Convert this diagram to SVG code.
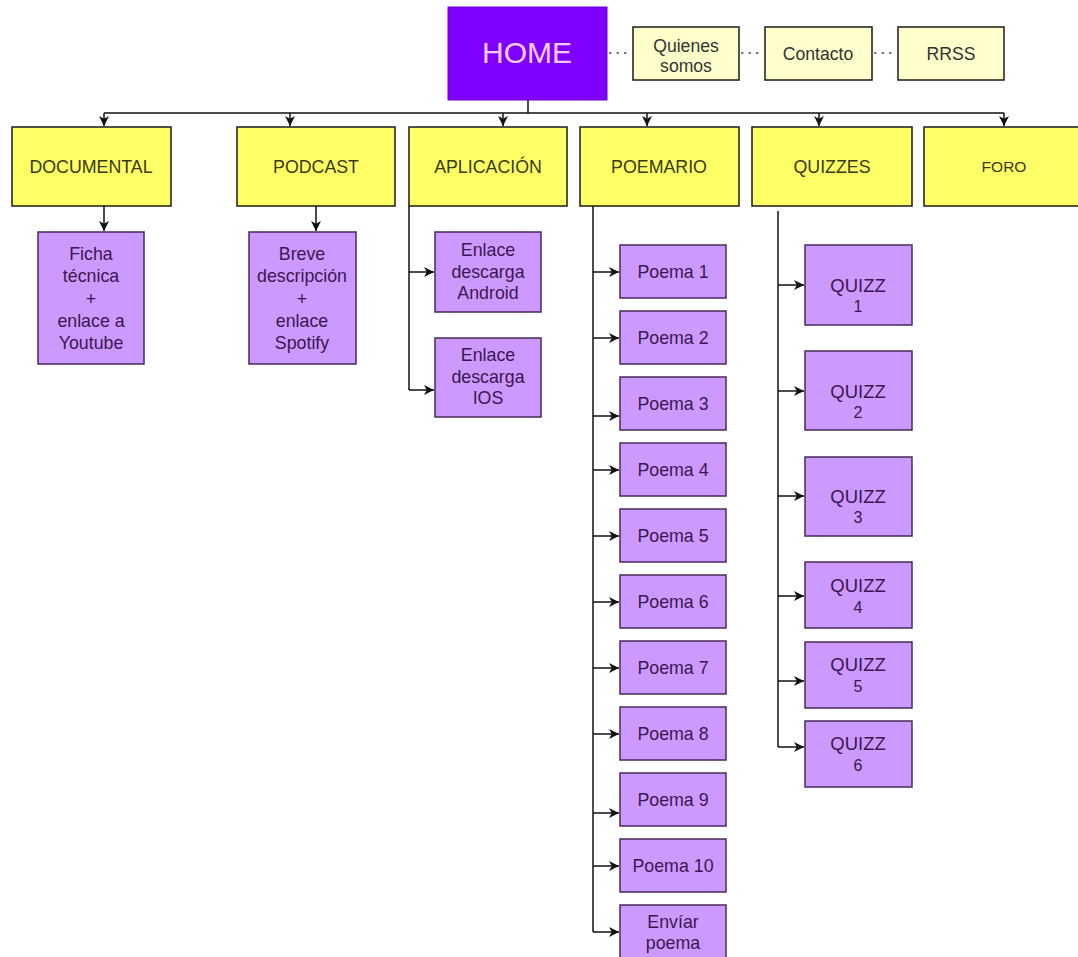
<svg xmlns="http://www.w3.org/2000/svg" width="1078" height="957" viewBox="0 0 1078 957">
<defs>
<style>
.home{fill:#7F00FF;stroke:#6a00d6;stroke-width:1}
.lt{fill:#FFFFCC;stroke:#1a1a1a;stroke-width:1.5}
.yl{fill:#FFFF66;stroke:#1a1a1a;stroke-width:1.5}
.pp{fill:#CC99FF;stroke:#4a2a5a;stroke-width:1.5}
text{font-family:"Liberation Sans",Arial,sans-serif;text-anchor:middle}
.th{font-size:30px;fill:#FFCCFF}
.ty{font-size:17.8px;fill:#3a3a10}
.tl{font-size:17.6px;fill:#333}
.tp{font-size:17.8px;fill:#3d1650}
.tq{font-size:18.5px;fill:#3d1650}
.tn{font-size:16px;fill:#3d1650}
.c{fill:none;stroke:#111;stroke-width:1.5}
.d{fill:none;stroke:#666;stroke-width:2.2;stroke-linecap:round;stroke-dasharray:0.5 7}
</style>
<marker id="a" markerWidth="11" markerHeight="11" refX="10" refY="5.5" orient="auto" markerUnits="userSpaceOnUse">
<path d="M0,0.5 L10,5.5 L0,10.5 L2.8,5.5 Z" fill="#111"/>
</marker>
</defs>
<rect width="1078" height="957" fill="#fff"/>
<g id="connectors">
<path class="d" d="M610 53 H632"/>
<path class="d" d="M742 53 H764"/>
<path class="d" d="M875 53 H897"/>
<path class="c" d="M528 100 V113 M104 113 H1004"/>
<path class="c" marker-end="url(#a)" d="M104 113 V126"/>
<path class="c" marker-end="url(#a)" d="M290 113 V126"/>
<path class="c" marker-end="url(#a)" d="M503 113 V126"/>
<path class="c" marker-end="url(#a)" d="M647 113 V126"/>
<path class="c" marker-end="url(#a)" d="M819 113 V126"/>
<path class="c" marker-end="url(#a)" d="M1004 113 V126"/>
<path class="c" marker-end="url(#a)" d="M104 206 V231"/>
<path class="c" marker-end="url(#a)" d="M316 206 V231"/>
<path class="c" d="M409 206 V390"/>
<path class="c" marker-end="url(#a)" d="M409 272 H434"/>
<path class="c" marker-end="url(#a)" d="M409 390 H434"/>
<path class="c" d="M593 206 V932"/>
<path class="c" marker-end="url(#a)" d="M593 272 H619"/>
<path class="c" marker-end="url(#a)" d="M593 338 H619"/>
<path class="c" marker-end="url(#a)" d="M593 416 H619"/>
<path class="c" marker-end="url(#a)" d="M593 470 H619"/>
<path class="c" marker-end="url(#a)" d="M593 536 H619"/>
<path class="c" marker-end="url(#a)" d="M593 602 H619"/>
<path class="c" marker-end="url(#a)" d="M593 668 H619"/>
<path class="c" marker-end="url(#a)" d="M593 734 H619"/>
<path class="c" marker-end="url(#a)" d="M593 813 H619"/>
<path class="c" marker-end="url(#a)" d="M593 866 H619"/>
<path class="c" marker-end="url(#a)" d="M593 932 H619"/>
<path class="c" d="M778 211 V747"/>
<path class="c" marker-end="url(#a)" d="M778 285 H804"/>
<path class="c" marker-end="url(#a)" d="M778 391 H804"/>
<path class="c" marker-end="url(#a)" d="M778 496 H804"/>
<path class="c" marker-end="url(#a)" d="M778 596 H804"/>
<path class="c" marker-end="url(#a)" d="M778 681 H804"/>
<path class="c" marker-end="url(#a)" d="M778 747 H804"/>
</g>
<g id="home"><rect class="home" x="448" y="7" width="159" height="93"/><text class="th" x="527" y="63">HOME</text></g>
<g id="quienes"><rect class="lt" x="633" y="27" width="106" height="53"/><text class="tl" x="686" y="52">Quienes</text><text class="tl" x="686" y="72">somos</text></g>
<g id="contacto"><rect class="lt" x="765" y="27" width="107" height="53"/><text class="tl" x="818" y="60">Contacto</text></g>
<g id="rrss"><rect class="lt" x="898" y="27" width="106" height="53"/><text class="tl" x="951" y="60">RRSS</text></g>
<g id="documental"><rect class="yl" x="12" y="127" width="159" height="79"/><text class="ty" x="91" y="173">DOCUMENTAL</text></g>
<g id="podcast"><rect class="yl" x="237" y="127" width="158" height="79"/><text class="ty" x="316" y="173">PODCAST</text></g>
<g id="aplicacion"><rect class="yl" x="409" y="127" width="158" height="79"/><text class="ty" x="488" y="173">APLICACIÓN</text></g>
<g id="poemario"><rect class="yl" x="580" y="127" width="159" height="79"/><text class="ty" x="659" y="173">POEMARIO</text></g>
<g id="quizzes"><rect class="yl" x="752" y="127" width="160" height="79"/><text class="ty" x="832" y="173">QUIZZES</text></g>
<g id="foro"><rect class="yl" x="924" y="127" width="160" height="79"/><text class="ty" x="1004" y="172" style="font-size:15.5px">FORO</text></g>
<g id="ficha"><rect class="pp" x="38" y="232" width="106" height="132"/>
<text class="tp" x="91" y="260">Ficha</text><text class="tp" x="91" y="282">técnica</text><text class="tp" x="91" y="305">+</text><text class="tp" x="91" y="327">enlace a</text><text class="tp" x="91" y="349">Youtube</text></g>
<g id="breve"><rect class="pp" x="249" y="232" width="107" height="132"/>
<text class="tp" x="302" y="260">Breve</text><text class="tp" x="302" y="282">descripción</text><text class="tp" x="302" y="305">+</text><text class="tp" x="302" y="327">enlace</text><text class="tp" x="302" y="349">Spotify</text></g>
<g id="android"><rect class="pp" x="435" y="232" width="106" height="80"/>
<text class="tp" x="488" y="256">Enlace</text><text class="tp" x="488" y="278">descarga</text><text class="tp" x="488" y="299">Android</text></g>
<g id="ios"><rect class="pp" x="435" y="338" width="106" height="79"/>
<text class="tp" x="488" y="361">Enlace</text><text class="tp" x="488" y="383">descarga</text><text class="tp" x="488" y="404">IOS</text></g>
<g id="poema1"><rect class="pp" x="620" y="245" width="106" height="53"/><text class="tp" x="673" y="278">Poema 1</text></g>
<g id="poema2"><rect class="pp" x="620" y="311" width="106" height="53"/><text class="tp" x="673" y="344">Poema 2</text></g>
<g id="poema3"><rect class="pp" x="620" y="377" width="106" height="53"/><text class="tp" x="673" y="410">Poema 3</text></g>
<g id="poema4"><rect class="pp" x="620" y="443" width="106" height="53"/><text class="tp" x="673" y="476">Poema 4</text></g>
<g id="poema5"><rect class="pp" x="620" y="509" width="106" height="53"/><text class="tp" x="673" y="542">Poema 5</text></g>
<g id="poema6"><rect class="pp" x="620" y="575" width="106" height="53"/><text class="tp" x="673" y="608">Poema 6</text></g>
<g id="poema7"><rect class="pp" x="620" y="641" width="106" height="53"/><text class="tp" x="673" y="674">Poema 7</text></g>
<g id="poema8"><rect class="pp" x="620" y="707" width="106" height="53"/><text class="tp" x="673" y="740">Poema 8</text></g>
<g id="poema9"><rect class="pp" x="620" y="773" width="106" height="53"/><text class="tp" x="673" y="806">Poema 9</text></g>
<g id="poema10"><rect class="pp" x="620" y="839" width="106" height="53"/><text class="tp" x="673" y="872">Poema 10</text></g>
<g id="enviar"><rect class="pp" x="620" y="905" width="106" height="60"/><text class="tp" x="673" y="928">Envíar</text><text class="tp" x="673" y="949">poema</text></g>
<g id="quizz1"><rect class="pp" x="805" y="245" width="107" height="80"/><text class="tq" x="858" y="292">QUIZZ</text><text class="tn" x="858" y="312">1</text></g>
<g id="quizz2"><rect class="pp" x="805" y="351" width="107" height="79"/><text class="tq" x="858" y="398">QUIZZ</text><text class="tn" x="858" y="418">2</text></g>
<g id="quizz3"><rect class="pp" x="805" y="457" width="107" height="79"/><text class="tq" x="858" y="503">QUIZZ</text><text class="tn" x="858" y="523">3</text></g>
<g id="quizz4"><rect class="pp" x="805" y="562" width="107" height="66"/><text class="tq" x="858" y="592">QUIZZ</text><text class="tn" x="858" y="613">4</text></g>
<g id="quizz5"><rect class="pp" x="805" y="642" width="107" height="66"/><text class="tq" x="858" y="671">QUIZZ</text><text class="tn" x="858" y="692">5</text></g>
<g id="quizz6"><rect class="pp" x="805" y="721" width="107" height="66"/><text class="tq" x="858" y="750">QUIZZ</text><text class="tn" x="858" y="771">6</text></g>
</svg>
